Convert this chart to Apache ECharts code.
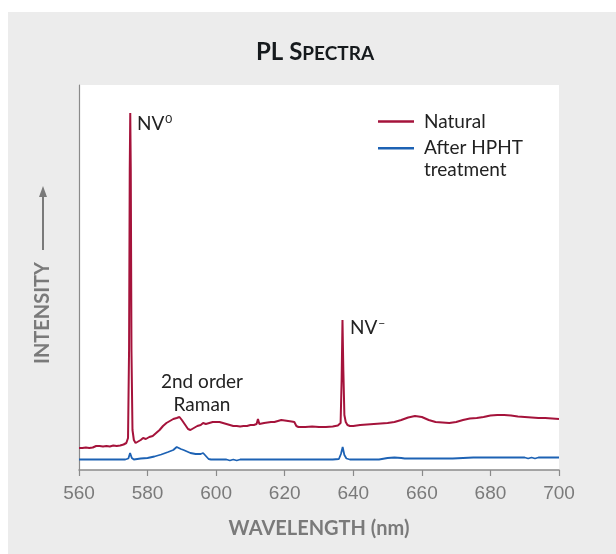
<!DOCTYPE html>
<html>
<head>
<meta charset="utf-8">
<script src="https://cdn.jsdelivr.net/npm/echarts@6/dist/echarts.min.js"></script>
<style>
html,body{margin:0;padding:0;background:#ffffff;width:616px;height:554px;overflow:hidden;}
#chart{position:absolute;left:8px;top:12px;width:608px;height:542px;background:#ececec;}
</style>
</head>
<body>
<div id="chart"></div>
<script>
// ---- Data (wavelength in nm, relative PL intensity) ----
const xTicks = [560, 580, 600, 620, 640, 660, 680, 700];

const naturalWavelength = [560,561,562,563,564,565,566,567,568,569,570,571,572,573,573.8,574.3,574.6,574.8,574.95,575.1,575.3,575.6,576,576.5,577,578,578.7,579.5,580.5,581.5,582.5,583.5,584.5,585.5,586.5,587.5,588.5,589.3,590,590.8,591.8,592.5,593.5,594.5,595.5,596.2,597,598,599,600,601,602,603,604,605,606,607,608,609,610,611,611.8,612.2,612.6,613,614,615,616,617,618,619,620,621,622,622.8,623.4,624,626,628,630,632,634,635.5,636.3,636.6,636.85,637.1,637.4,637.8,638.3,639,640,642,644,646,648,650,652,654,656,658,660,662,664,666,668,670,672,674,676,678,680,682,684,686,688,690,692,694,696,698,700];
const naturalIntensity = [22,22,22.5,22,22.5,24,24,23.5,24,23.5,24.5,24,24.5,25.5,27,32,120,300,357,300,120,40,30,27,28,30,32,31,33,34,37,40,44,47,49,51,52,53,50,46,41,40,42,44,45,47,46,47,48,48,48,47,46,45,44,44,43.5,44,44,45,45,46,51,46,46,47,47.5,48,48,49,50,49.5,49,48.5,48,44,43,43,43.5,43,43,43.5,44.5,47,90,150,100,55,48,45,44,44,45,45.5,46,46.5,47,48,50,52.5,54,53,50,48,47.5,47,48,50,51.5,52,53,54.5,55,55,54.5,53.5,53,52.5,52,52,51.5,51];

const hphtWavelength = [560,565,570,573.5,574.4,574.9,575.4,576,577,578,580,582,584,586,587.5,588.5,589,589.7,590.5,591.5,592.5,594,595.5,596.2,597,597.8,598.5,600,603,604,605,606,607,610,615,620,625,630,634,635.8,636.4,636.9,637.4,638,639,643,647.5,648,650,652,654,655,660,665,669,669.5,675,680,685,690,691,692,693,694,700];
const hphtIntensity = [10.5,10.5,10.5,10.5,11.5,17,12,10.5,11,11.5,12,13.5,15.5,18,20,23,24,21,20,18.5,17,16,16,17,14,11,10.5,10.5,10.5,9.5,10.5,9.5,10.5,10.5,10.5,10.5,10.5,10.5,10.5,11,16,23,15,11.5,10.5,10.5,10.5,12,12,12.5,12,11.5,11.5,11.5,11.5,12.5,12.5,12.5,12.5,12.5,11.5,12.5,11.5,12.5,12.5];

const seriesNames = ['Natural', 'After HPHT treatment'];
const seriesColors = ['#a5133b', '#1d62b4'];

function pairs(xs, ys) { return xs.map((x, i) => [x, ys[i]]); }

const chart = echarts.init(document.getElementById('chart'), null, {renderer: 'canvas'});
const humanist = 'Lato, "Open Sans", sans-serif';

const option = {
  backgroundColor: '#ececec',
  animation: false,
  title: {
    text: '{b|PL S}{s|PECTRA}',
    left: 248, top: 24, padding: 0,
    textStyle: {
      rich: {
        b: {fontFamily: humanist, fontWeight: 'bold', fontSize: 24, lineHeight: 28, verticalAlign: 'bottom', color: '#161a1d'},
        s: {fontFamily: humanist, fontWeight: 'bold', fontSize: 19, lineHeight: 28, verticalAlign: 'bottom', color: '#161a1d', padding: [0, 0, 1, 0]}
      }
    }
  },
  grid: {left: 71, right: 57, top: 73, bottom: 84, show: true, backgroundColor: '#ffffff', borderWidth: 0},
  legend: [
    {
      data: [seriesNames[0]], left: 370, top: 100, orient: 'vertical', padding: 0,
      icon: 'rect', itemWidth: 36, itemHeight: 2.5, itemGap: 10,
      textStyle: {fontFamily: humanist, fontSize: 19, color: '#222', padding: [0, 0, 0, 5]}
    },
    {
      data: [seriesNames[1]], left: 370, top: 125, orient: 'vertical', padding: 0,
      icon: 'path://M0,0H36V2.5H0Z M0,23.9H0.05V24H0Z', itemWidth: 36, itemHeight: 24, itemGap: 10,
      formatter: () => 'After HPHT\ntreatment',
      textStyle: {fontFamily: humanist, fontSize: 19, color: '#222', lineHeight: 22, padding: [0, 0, 0, 5]}
    }
  ],
  xAxis: {
    type: 'value', min: 560, max: 700, interval: 20,
    name: 'WAVELENGTH (nm)', nameLocation: 'middle', nameGap: 49,
    nameTextStyle: {fontFamily: humanist, fontWeight: 'bold', fontSize: 20, color: '#7a7a7a'},
    axisLine: {show: true, onZero: false, lineStyle: {color: '#8a8a8a', width: 1.5}},
    axisTick: {show: true, length: 6, inside: false, lineStyle: {color: '#8a8a8a', width: 1.2}},
    axisLabel: {fontFamily: '"Liberation Sans", Arial, sans-serif', fontSize: 19, color: '#7a7a7a', margin: 14,
      formatter: v => xTicks.includes(v) ? String(v) : ''},
    splitLine: {show: false}
  },
  yAxis: {
    type: 'value', min: 0, max: 385,
    axisLine: {show: true, lineStyle: {color: '#8a8a8a', width: 1.2}},
    axisTick: {show: false}, axisLabel: {show: false}, splitLine: {show: false}
  },
  series: [
    {
      name: seriesNames[0], type: 'line', data: pairs(naturalWavelength, naturalIntensity),
      showSymbol: false, symbol: 'none', lineStyle: {color: seriesColors[0], width: 2}, itemStyle: {color: seriesColors[0]},
      z: 3
    },
    {
      name: seriesNames[1], type: 'line', data: pairs(hphtWavelength, hphtIntensity),
      showSymbol: false, symbol: 'none', lineStyle: {color: seriesColors[1], width: 1.8}, itemStyle: {color: seriesColors[1]},
      z: 2
    }
  ],
  graphic: [
    {
      type: 'text', x: 35, y: 301, rotation: Math.PI / 2,
      style: {text: 'INTENSITY', fontFamily: humanist, fontWeight: 'bold', fontSize: 20, fill: '#7a7a7a', align: 'center', verticalAlign: 'middle'}
    },
    {type: 'line', shape: {x1: 35, y1: 238, x2: 35, y2: 182}, style: {stroke: '#7a7a7a', lineWidth: 2}},
    {type: 'polygon', shape: {points: [[35, 174], [31, 185], [39, 185]]}, style: {fill: '#7a7a7a'}},
    {
      type: 'text', x: 129, y: 112,
      style: {text: '{a|NV}{s|0}', verticalAlign: 'middle',
        rich: {a: {fontFamily: humanist, fontSize: 19, fill: '#222', color: '#222'}, s: {fontFamily: humanist, fontSize: 12, color: '#222', fill: '#222', padding: [0, 0, 9, 1]}}}
    },
    {
      type: 'text', x: 342, y: 316,
      style: {text: '{a|NV}{s|\u2212}', verticalAlign: 'middle',
        rich: {a: {fontFamily: humanist, fontSize: 19, color: '#222', fill: '#222'}, s: {fontFamily: humanist, fontSize: 12, color: '#222', fill: '#222', padding: [0, 0, 9, 1]}}}
    },
    {
      type: 'text', x: 194, y: 381,
      style: {text: '2nd order\nRaman', align: 'center', verticalAlign: 'middle', lineHeight: 23,
        fontFamily: humanist, fontSize: 19, fill: '#222'}
    }
  ]
};
chart.setOption(option);
</script>
</body>
</html>
